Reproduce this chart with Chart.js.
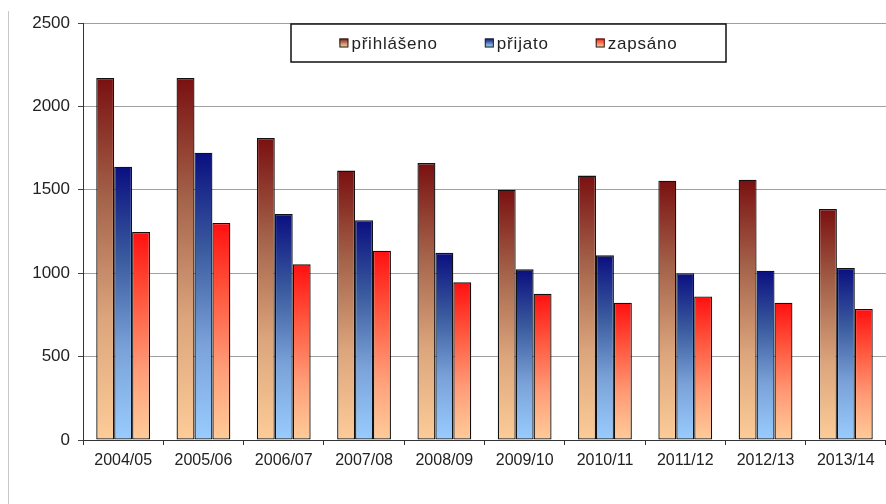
<!DOCTYPE html>
<html>
<head>
<meta charset="utf-8">
<script src="https://cdn.jsdelivr.net/npm/chart.js@4.4.1/dist/chart.umd.min.js"></script>
<style>
  body { margin: 0; background: #fff; }
  #wrap { position: relative; width: 886px; height: 504px; }
  #edge { position: absolute; left: 8px; top: 11px; width: 1px; height: 493px; background: #c8c8c8; }
</style>
</head>
<body>
<div id="wrap">
  <div id="edge"></div>
  <canvas id="myChartBar" width="886" height="504"></canvas>
</div>
<script>
var years = ['2004/05', '2005/06', '2006/07', '2007/08', '2008/09', '2009/10', '2010/11', '2011/12', '2012/13', '2013/14'];
var prihlaseno = [2170, 2170, 1810, 1615, 1660, 1500, 1585, 1555, 1560, 1385];
var prijato = [1638, 1722, 1355, 1317, 1122, 1023, 1107, 1000, 1015, 1031];
var zapsano = [1247, 1301, 1053, 1135, 945, 877, 823, 861, 823, 785];
var yTicks = [0, 500, 1000, 1500, 2000, 2500];

// gradient stops, top of bar -> bottom
var brownStops = ['#7a1010', '#a4634a', '#dca57c', '#fdcc98'];
var blueStops = ['#0a0f80', '#3a5a9e', '#7aa2d8', '#99ccff'];
var redStops = ['#ff1010', '#ff5a40', '#ff9c78', '#ffcc99'];

function fillStops(g, stops) {
  for (var i = 0; i < stops.length; i++) g.addColorStop(i / (stops.length - 1), stops[i]);
  return g;
}

function barGradient(stops) {
  return function (c) {
    var chart = c.chart;
    if (!chart.chartArea || c.raw === undefined) return stops[stops.length - 1];
    var y = chart.scales.y;
    var top = y.getPixelForValue(c.raw);
    var bot = y.getPixelForValue(0);
    return fillStops(chart.ctx.createLinearGradient(0, top, 0, bot), stops);
  };
}

var fontFam = "'Liberation Sans', Arial, sans-serif";

// boxed legend drawn inside the plot, like the original
var boxLegend = {
  id: 'boxLegend',
  afterDraw: function (chart) {
    var ctx = chart.ctx;
    var bx = 291, by = 24, bw = 435, bh = 38;
    ctx.save();
    ctx.fillStyle = '#fff';
    ctx.fillRect(bx, by, bw, bh);
    ctx.strokeStyle = '#111';
    ctx.lineWidth = 1.5;
    ctx.strokeRect(bx, by, bw, bh);
    ctx.font = '17px ' + fontFam;
    ctx.letterSpacing = '0.8px';
    ctx.textBaseline = 'middle';
    var sw = 9, gapText = 3, gapItem = 47;
    var sets = chart.data.datasets;
    var widths = sets.map(function (d) { return ctx.measureText(d.label).width; });
    var total = 0;
    widths.forEach(function (w, i) { total += sw + gapText + w + (i ? gapItem : 0); });
    var x = bx + bw / 2 - total / 2;
    var cy = by + bh / 2;
    sets.forEach(function (d, i) {
      var g = fillStops(ctx.createLinearGradient(0, cy - sw / 2, 0, cy + sw / 2), d.stops);
      ctx.fillStyle = g;
      ctx.fillRect(x, cy - sw / 2, sw, sw);
      ctx.strokeStyle = '#222';
      ctx.lineWidth = 1;
      ctx.strokeRect(x + 0.5, cy - sw / 2 + 0.5, sw - 1, sw - 1);
      ctx.fillStyle = '#222';
      ctx.fillText(d.label, x + sw + gapText, cy + 1);
      x += sw + gapText + widths[i] + gapItem;
    });
    ctx.restore();
  }
};

var ctx1 = document.getElementById('myChartBar').getContext('2d');
var myChartBar = new Chart(ctx1, {
  type: 'bar',
  data: {
    labels: years,
    datasets: [
      { label: 'přihlášeno', data: prihlaseno, stops: brownStops, backgroundColor: barGradient(brownStops) },
      { label: 'přijato', data: prijato, stops: blueStops, backgroundColor: barGradient(blueStops) },
      { label: 'zapsáno', data: zapsano, stops: redStops, backgroundColor: barGradient(redStops) }
    ]
  },
  options: {
    responsive: false,
    animation: false,
    layout: { padding: { left: 0, top: 23, right: 0, bottom: 0 } },
    datasets: {
      bar: {
        borderColor: '#111',
        borderWidth: 1.3,
        borderSkipped: false,
        barPercentage: 1,
        categoryPercentage: 0.67
      }
    },
    plugins: {
      legend: { display: false },
      tooltip: { enabled: false }
    },
    scales: {
      x: {
        offset: true,
        afterFit: function (s) { s.height = 64; },
        grid: { offset: true, drawOnChartArea: false, tickLength: 5, tickColor: '#333', color: '#333' },
        border: { color: '#333', width: 1 },
        ticks: { color: '#222', font: { family: fontFam, size: 16 }, padding: 6, maxRotation: 0 }
      },
      y: {
        min: 0,
        max: 2500,
        afterFit: function (s) { s.width = 83; },
        afterBuildTicks: function (s) { s.ticks = yTicks.map(function (v) { return { value: v }; }); },
        grid: { color: '#a0a0a0', tickLength: 5, tickColor: '#444' },
        border: { color: '#333', width: 1 },
        ticks: {
          color: '#222',
          font: { family: fontFam, size: 17 },
          padding: 8,
          callback: function (v) { return String(v); }
        }
      }
    }
  },
  plugins: [boxLegend]
});
</script>
</body>
</html>
